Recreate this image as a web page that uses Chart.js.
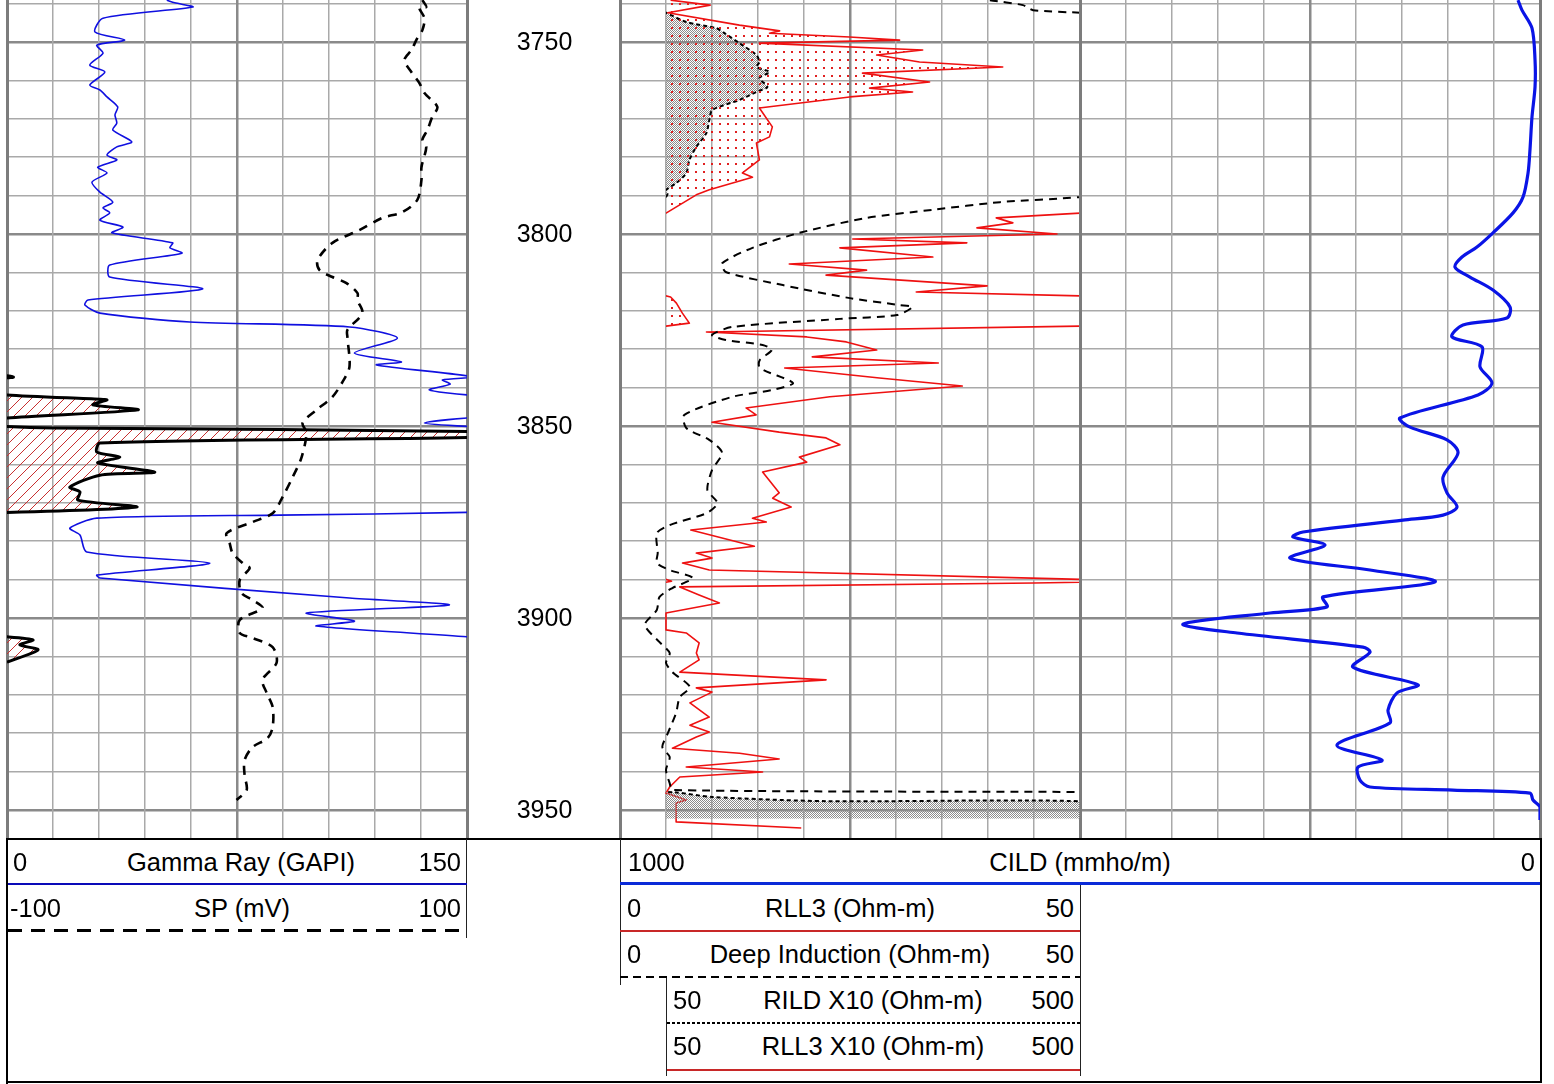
<!DOCTYPE html>
<html><head><meta charset="utf-8"><title>Well log</title>
<script src="https://cdn.jsdelivr.net/npm/chart.js"></script>
<style>
html,body{margin:0;padding:0;background:#fff;}
#page{position:relative;width:1554px;height:1084px;overflow:hidden;background:#fff;font-family:"Liberation Sans",Arial,Helvetica,sans-serif;color:#000;}
canvas{position:absolute;top:0;display:block;}
.t{position:absolute;font-size:25.5px;line-height:30px;white-space:nowrap;}
.c{transform:translateX(-50%);}
.k{position:absolute;}
</style></head>
<body><div id="page">
<canvas id="t1" width="472" height="845" style="left:1px"></canvas>
<canvas id="dp" width="153" height="845" style="left:467px"></canvas>
<canvas id="t2" width="472" height="845" style="left:614px"></canvas>
<canvas id="t3" width="472" height="845" style="left:1074px"></canvas>
<canvas id="t2b" width="426" height="845" style="left:660px"></canvas>

<!-- legend frame -->
<div class="k" style="left:6px;top:838px;width:1536px;height:2px;background:#000"></div>
<div class="k" style="left:6px;top:838px;width:2px;height:246px;background:#000"></div>
<div class="k" style="left:6px;top:1081px;width:1536px;height:2px;background:#000"></div>
<div class="k" style="left:1540px;top:838px;width:2px;height:245px;background:#000"></div>
<div class="k" style="left:466px;top:839px;width:1px;height:99px;background:#222"></div>
<div class="k" style="left:620px;top:839px;width:1px;height:146px;background:#222"></div>
<div class="k" style="left:666px;top:977px;width:1px;height:99px;background:#222"></div>
<div class="k" style="left:1080px;top:884px;width:1px;height:192px;background:#222"></div>

<!-- track 1 legend -->
<div class="t" style="left:13px;top:847px">0</div>
<div class="t c" style="left:241px;top:847px">Gamma Ray (GAPI)</div>
<div class="t" style="right:1093px;top:847px">150</div>
<div class="k" style="left:8px;top:883px;width:459px;height:2px;background:#0a0ab8"></div>
<div class="t" style="left:10px;top:893px">-100</div>
<div class="t c" style="left:242px;top:893px">SP (mV)</div>
<div class="t" style="right:1093px;top:893px">100</div>
<div class="k" style="left:8px;top:929px;width:459px;height:3px;background:repeating-linear-gradient(90deg,#000 0 14px,transparent 14px 23px)"></div>

<!-- track 2/3 legend -->
<div class="t" style="left:628px;top:847px">1000</div>
<div class="t c" style="left:1080px;top:847px">CILD (mmho/m)</div>
<div class="t" style="right:19px;top:847px">0</div>
<div class="k" style="left:620px;top:882px;width:920px;height:3px;background:#0a2ad8"></div>
<div class="t" style="left:627px;top:893px">0</div>
<div class="t c" style="left:850px;top:893px">RLL3 (Ohm-m)</div>
<div class="t" style="right:480px;top:893px">50</div>
<div class="k" style="left:620px;top:930px;width:460px;height:2px;background:#c82828"></div>
<div class="t" style="left:627px;top:939px">0</div>
<div class="t c" style="left:850px;top:939px">Deep Induction (Ohm-m)</div>
<div class="t" style="right:480px;top:939px">50</div>
<div class="k" style="left:620px;top:976px;width:460px;height:2px;background:repeating-linear-gradient(90deg,#000 0 8px,transparent 8px 13px)"></div>
<div class="t" style="left:673px;top:985px">50</div>
<div class="t c" style="left:873px;top:985px">RILD X10 (Ohm-m)</div>
<div class="t" style="right:480px;top:985px">500</div>
<div class="k" style="left:667px;top:1022px;width:413px;height:2px;background:repeating-linear-gradient(90deg,#000 0 3px,transparent 3px 5px)"></div>
<div class="t" style="left:673px;top:1031px">50</div>
<div class="t c" style="left:873px;top:1031px">RLL3 X10 (Ohm-m)</div>
<div class="t" style="right:480px;top:1031px">500</div>
<div class="k" style="left:667px;top:1069px;width:413px;height:2px;background:#c82828"></div>
</div>
<script>
// ---------- data (depth in ft) ----------
const depthMin = 3739.06, depthMax = 3957.55;
const depthLabels = [3750, 3800, 3850, 3900, 3950];

const grDepth = [3739.1,3739.8,3740.9,3743.8,3747.4,3749.5,3750.8,3752.9,3756.0,3757.8,3761.2,3762.5,3764.3,3766.9,3769.0,3771.1,3772.9,3776.0,3777.3,3779.4,3780.7,3782.6,3784.1,3786.5,3789.1,3791.7,3793.2,3794.5,3796.4,3798.2,3799.7,3802.3,3803.6,3805.0,3808.1,3811.2,3814.3,3817.2,3818.5,3820.6,3822.9,3824.2,3827.1,3831.0,3833.3,3834.1,3837.2,3838.0,3839.1,3840.6,3841.9,3843.0,3843.2,3844.5,3845.8,3847.9,3849.2,3850.1,3850.5,3851.6,3852.9,3854.4,3856.8,3858.1,3859.6,3862.0,3862.8,3865.9,3867.2,3869.3,3871.1,3872.5,3873.2,3874.0,3876.6,3878.4,3882.8,3885.7,3888.8,3889.6,3894.8,3896.6,3898.7,3900.8,3902.1,3904.9,3905.7,3907.0,3908.3,3911.5];
const grValue = [52.1,54.7,60.6,31.3,28.7,38.4,29.3,31.3,27.0,31.9,27.0,30.3,32.6,36.1,35.2,35.8,34.5,40.7,35.8,32.6,35.8,29.6,32.6,27.7,30.3,34.5,31.3,33.5,30.3,37.8,34.2,54.0,53.1,57.0,33.5,33.5,63.8,26.4,25.4,30.3,59.6,111.7,127.3,113.3,128.6,120.5,152,142.0,144.5,137.7,150,180.3,182.6,178.0,192.7,150,136.1,150,165,320,305,180.3,179.3,186.8,179.6,198.2,180.3,170.5,173.8,173.1,192.3,150,88.9,29.3,20.5,23.8,26.0,66.1,29.3,30.3,111.7,144.2,97.7,113.3,100.9,150,158.5,154.2,160.1,150];

const spDepth = [3739.1,3740.9,3741.1,3743.8,3746.9,3749.0,3752.1,3754.7,3757.8,3760.7,3763.3,3766.9,3769.5,3772.9,3775.5,3777.3,3782.6,3785.9,3791.1,3794.3,3795.8,3799.0,3802.3,3806.8,3809.4,3811.2,3812.8,3815.4,3817.2,3820.6,3825.0,3826.8,3834.6,3838.5,3842.4,3845.8,3849.2,3851.8,3858.1,3863.3,3868.5,3872.7,3875.0,3877.9,3880.5,3883.1,3885.7,3887.0,3890.1,3893.5,3895.3,3897.4,3900.5,3903.9,3905.2,3907.6,3911.7,3916.1,3919.5,3923.2,3928.4,3931.3,3933.6,3937.0,3940.9,3944.8,3947.4];
const spValue = [80.6,82.3,79.3,81.5,80.6,78.4,75.8,72.8,75.8,79.3,81.5,87.1,84.9,82.8,80.6,82.3,80.2,80.2,78.4,71.9,63.2,53.2,41.5,35.0,35.9,41.5,47.6,52.4,52.4,54.5,48.0,48.0,48.9,45.9,41.5,34.6,28.5,30.2,28.1,24.2,19.8,15.5,6.8,-4.5,-3.2,-1.9,2.5,5.5,1.2,2.0,6.8,11.1,1.2,1.2,6.8,15.5,17.2,11.1,12.9,15.5,15.5,13.3,6.8,3.3,3.3,4.2,-0.2];

const rll3Depth = [3739.1,3740.4,3742.4,3745.6,3747.1,3747.7,3748.7,3749.5,3750.3,3752.1,3753.4,3755.2,3756.5,3758.1,3760.4,3762.0,3763.0,3764.3,3767.2,3772.1,3774.7,3776.3,3780.7,3784.1,3785.2,3788.5,3789.8,3794.5,3795.8,3797.1,3798.4,3800.0,3801.3,3802.3,3803.6,3806.0,3807.8,3809.4,3810.7,3813.5,3815.1,3816.4,3818.0,3820.6,3823.2,3824.0,3825.5,3826.8,3828.1,3830.2,3832.0,3833.6,3834.9,3837.5,3839.6,3842.4,3845.3,3847.1,3849.0,3851.6,3853.1,3854.9,3858.1,3859.4,3862.0,3867.4,3868.8,3871.1,3874.0,3875.0,3877.1,3881.3,3883.1,3884.4,3885.7,3887.5,3889.8,3890.4,3890.9,3891.9,3894.0,3896.1,3898.7,3903.1,3903.9,3906.5,3909.1,3910.9,3914.1,3916.1,3918.2,3919.3,3922.1,3925.8,3927.9,3929.7,3931.0,3933.9,3935.2,3936.7,3938.8,3940.1,3941.4,3944.0,3945.6,3947.4,3948.2,3953.1,3954.7];
const rll3Value = [55,98,52,129.8,173.5,162.5,249.5,303.9,151.5,329,279,325.6,416,263.6,336.5,271.3,318,249.5,151.5,165.6,162.5,148.3,151.5,133.1,144,97.1,82.9,50.5,40.9,42.7,38.8,47.5,25.3,37.7,23.9,34.0,18.4,26.8,22.4,39.9,32.2,55,61.3,67.8,75.4,50,9.4,20.3,24.6,27.9,20.9,34.6,17.9,28.2,37.2,22.8,13.7,14.8,10.0,17.3,22.4,23.9,19.5,20.3,15.5,17.3,16.6,18.6,14.4,15.9,7.7,14.6,8.3,10.0,6.8,9.7,48,56,45,6.5,8.6,10.8,5.0,5.0,7.2,8.6,8.3,8.6,6.5,22.4,8.3,10.0,7.6,9.7,7.6,9.7,8.3,5.7,13.0,17.3,7.2,15.5,6.5,5.4,5.0,7.2,6.1,6.1,19.7];

const ildDepth = [3739.1,3740.4,3741.7,3742.4,3744.8,3746.4,3747.7,3750.3,3753.4,3755.2,3756.5,3757.8,3759.4,3761.7,3763.0,3765.1,3767.7,3770.3,3773.7,3777.3,3780.7,3784.1,3786.7,3788.5,3789.3,3790.4,3791.7,3793.7,3795.8,3799.7,3803.6,3807.6,3809.9,3813.3,3816.7,3818.5,3819.0,3821.1,3822.1,3824.2,3826.3,3827.6,3828.9,3830.2,3832.8,3834.9,3838.8,3840.6,3842.4,3847.1,3850.5,3853.6,3857.0,3861.5,3866.7,3870.1,3872.7,3875.8,3877.9,3883.1,3885.7,3887.5,3889.6,3892.2,3894.5,3897.9,3901.8,3906.3,3909.1,3911.7,3914.1,3918.0,3920.6,3924.7,3930.0,3933.6,3936.2,3939.6,3943.0,3944.8,3945.4,3946.6,3947.7,3947.9,3952.3];
const ildValue = [40.2,43.8,44.9,50.4,72.2,104.8,113.5,129.8,148.3,151.5,148.3,162.5,151.5,160.2,148.3,129.8,100.4,97.1,93.9,83.0,75.4,72.2,61.3,50.4,52,49.9,41.3,34.0,26.8,19.5,14.4,11.1,11.5,17.7,25.0,30.4,31.8,30.1,23.9,12.2,10.0,11.5,15.5,16.5,15.2,15.2,18.8,16.6,12.2,7.0,7.2,9.7,11.1,10.0,9.5,10.6,9.4,5.4,4.0,4.1,4.0,5.4,7.9,5.7,4.3,4.0,2.7,4.3,5.4,5.0,5.7,7.6,6.5,6.1,5.2,4.6,5.4,5.0,5.4,5.7,60,100,225,520,600];

const cildDepth = [3739.1,3741.7,3746.4,3754.7,3761.7,3769.5,3778.1,3784.1,3790.4,3794.5,3799.7,3803.4,3806.0,3808.6,3811.2,3814.6,3819.0,3821.9,3823.7,3826.8,3829.4,3834.6,3838.8,3841.9,3847.9,3850.3,3853.6,3857.0,3863.3,3867.4,3871.1,3873.2,3874.5,3877.6,3878.9,3881.0,3884.4,3887.5,3890.6,3894.5,3897.1,3898.7,3901.6,3903.9,3907.6,3908.9,3912.8,3917.4,3919.5,3924.0,3927.3,3933.1,3937.0,3938.8,3942.2,3944.0,3944.8,3945.6,3947.4,3949.2,3952.6];
const cildValue = [23.9,19.6,8.7,5.4,5.4,8.7,10.9,13.0,18.5,29.3,51.1,68.5,84.8,92.4,76.1,51.1,32.6,35.9,83.7,95.7,63.0,65.2,52.2,67.4,152.2,141.3,101.1,89.1,105.4,101.1,90.2,105.4,148.9,257.6,268.5,233.7,271.7,184.8,114.1,235.9,231.5,293.5,388.0,329.3,192.4,184.8,203.3,132.6,155.4,165.2,163.0,220.7,171.7,197.8,195.7,184.8,94.6,10.9,7.6,0,0];

// grid depths every 10 ft
const gridDepths = [];
for (let d = 3740; d <= 3950; d += 10) gridDepths.push(d);

// ---------- styling helpers ----------
const EDGE = '#7c7c7c', MAJOR = '#8a8a8a', MINOR = '#a9a9a9';
function pattern(w, h, draw) {
  const c = document.createElement('canvas'); c.width = w; c.height = h;
  const g = c.getContext('2d'); draw(g);
  return g.createPattern(c, 'repeat');
}
const redDots = pattern(8, 8, g => { g.fillStyle = '#e02020'; g.fillRect(3, 3, 2, 2); });
const grayStipple = pattern(2, 2, g => { g.fillStyle = '#8c8c8c'; g.fillRect(0, 0, 1, 1); g.fillRect(1, 1, 1, 1); });
const redHatch = pattern(11, 11, g => { g.strokeStyle = '#c83030'; g.lineWidth = 1; g.beginPath(); g.moveTo(-1, 12); g.lineTo(12, -1); g.stroke(); });

const pts = (depths, values) => depths.map((d, i) => ({x: values[i], y: d}));
function curve(label, depths, values, axis, color, width, extra) {
  return Object.assign({label, data: pts(depths, values), xAxisID: axis, yAxisID: 'y',
    borderColor: color, borderWidth: width, fill: false, clip: 0,
    pointRadius: 0, pointHoverRadius: 0, tension: 0, borderCapStyle: 'butt', borderJoinStyle: 'round'}, extra || {});
}
function yGrid() {
  return { type: 'linear', axis: 'y', position: 'left', reverse: true, min: depthMin, max: depthMax,
    afterBuildTicks: s => { s.ticks = gridDepths.map(v => ({value: v})); },
    afterFit: s => { s.width = 0; },
    ticks: {display: false}, border: {display: false},
    grid: { drawTicks: false,
      color: c => (c.tick && c.tick.value % 50 === 0) ? MAJOR : MINOR,
      lineWidth: c => (c.tick && c.tick.value % 50 === 0) ? 2.5 : 1.5 } };
}
function yHidden() {
  return { type: 'linear', axis: 'y', display: false, reverse: true, min: depthMin, max: depthMax };
}
function xGrid(min, max, reverse) {
  return { type: 'linear', axis: 'x', position: 'bottom', min, max, reverse: !!reverse,
    afterBuildTicks: s => { s.ticks = Array.from({length: 11}, (_, i) => ({value: min + i * (max - min) / 10})); },
    afterFit: s => { s.height = 0; },
    ticks: {display: false}, border: {display: false},
    grid: { drawTicks: false,
      color: c => (c.index === 0 || c.index === 10) ? EDGE : (c.index === 5 ? MAJOR : MINOR),
      lineWidth: c => (c.index === 0 || c.index === 10) ? 3 : (c.index === 5 ? 2.5 : 1.5) } };
}
function xHidden(min, max, reverse) {
  return { type: 'linear', axis: 'x', display: false, min, max, reverse: !!reverse };
}
function options(scales, pad) {
  return { responsive: false, animation: false, events: [], indexAxis: 'y',
    layout: { autoPadding: false, padding: pad || {left: 6, right: 6, top: 0, bottom: 6} },
    plugins: { legend: {display: false}, tooltip: {enabled: false}, title: {display: false} },
    scales };
}

// ---------- Track 1: GR / SP ----------
new Chart(document.getElementById('t1'), {
  type: 'line',
  data: { datasets: [
    curve('SP (mV)', spDepth, spValue, 'sp', '#000', 2.6, {borderDash: [9, 7], tension: 0.3, order: 0}),
    curve('Gamma Ray (GAPI)', grDepth, grValue, 'gr', '#1010e0', 1.6, {tension: 0.25, order: 1}),
    curve('Gamma Ray backup', grDepth, grValue, 'grw', '#000', 3, {tension: 0.25, fill: {value: 150}, backgroundColor: redHatch, order: 2})
  ]},
  options: options({ y: yGrid(), gr: xGrid(0, 150), grw: xHidden(150, 300), sp: xHidden(-100, 100) })
});

// ---------- Depth track ----------
const depthLabelPlugin = {
  id: 'depthLabels',
  afterDraw(chart) {
    const {ctx} = chart, y = chart.scales.y;
    ctx.save();
    ctx.font = '25px "Liberation Sans", Arial, sans-serif';
    ctx.fillStyle = '#000'; ctx.textAlign = 'center'; ctx.textBaseline = 'middle';
    depthLabels.forEach(d => ctx.fillText(String(d), 77.5, y.getPixelForValue(d) + 1));
    ctx.restore();
  }
};
new Chart(document.getElementById('dp'), {
  type: 'line',
  data: { datasets: [] },
  options: options({ y: yHidden(), x: xHidden(0, 1) }, {left: 0, right: 0, top: 0, bottom: 6}),
  plugins: [depthLabelPlugin]
});

// ---------- Track 2: resistivity 0-50 ----------
new Chart(document.getElementById('t2'), {
  type: 'line',
  data: { datasets: [
    curve('Deep Induction (Ohm-m)', ildDepth, ildValue, 'res', '#000', 2, {borderDash: [8, 6], tension: 0.25, order: 0}),
    curve('RLL3 (Ohm-m)', rll3Depth, rll3Value, 'res', '#ee1111', 1.6, {order: 1})
  ]},
  options: options({ y: yGrid(), res: xGrid(0, 50) })
});

// ---------- Track 3: CILD ----------
new Chart(document.getElementById('t3'), {
  type: 'line',
  data: { datasets: [
    curve('CILD (mmho/m)', cildDepth, cildValue, 'cild', '#0a14e6', 3.2, {tension: 0.3})
  ]},
  options: options({ y: yGrid(), cild: xGrid(0, 500, true) })
});

// ---------- Track 2 backup (X10) overlay 50-500 ----------
new Chart(document.getElementById('t2b'), {
  type: 'line',
  data: { datasets: [
    curve('RLL3 X10 (Ohm-m)', rll3Depth, rll3Value, 'x10', '#ee1111', 1.6, {fill: {value: 50}, backgroundColor: redDots, order: 0}),
    curve('RILD X10 (Ohm-m)', ildDepth, ildValue, 'x10', '#000', 2, {borderDash: [4, 3], tension: 0.25, fill: {value: 50}, backgroundColor: grayStipple, order: 1})
  ]},
  options: options({ y: yHidden(), x10: xHidden(50, 500) })
});
</script>
</body></html>
